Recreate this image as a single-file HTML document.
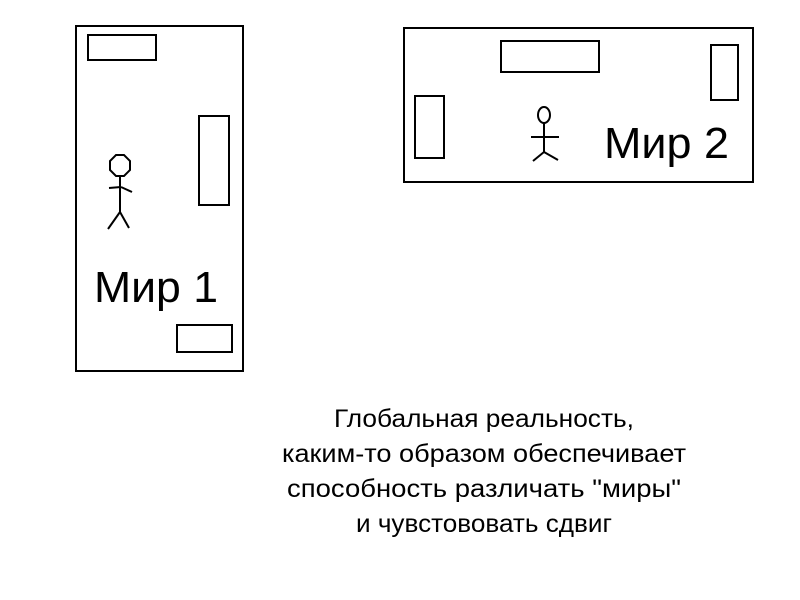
<!DOCTYPE html>
<html><head><meta charset="utf-8"><style>html,body{margin:0;padding:0;background:#fff}svg{display:block}</style></head>
<body>
<svg width="800" height="600" viewBox="0 0 800 600" xmlns="http://www.w3.org/2000/svg">
<g fill="none" stroke="#000" stroke-width="2">
<rect x="76" y="26" width="167" height="345"/>
<rect x="88" y="35" width="68" height="25"/>
<rect x="199" y="116" width="30" height="89"/>
<rect x="177" y="325" width="55" height="27"/>
<rect x="404" y="28" width="349" height="154"/>
<rect x="501" y="41" width="98" height="31"/>
<rect x="711" y="45" width="27" height="55"/>
<rect x="415" y="96" width="29" height="62"/>
<polygon points="116,155 124,155 130,161 130,170 124,176 116,176 110,170 110,161"/>
<line x1="120" y1="176" x2="120" y2="213"/>
<line x1="109" y1="188" x2="121" y2="187"/>
<line x1="121" y1="187" x2="132" y2="192"/>
<line x1="120" y1="212" x2="108" y2="229"/>
<line x1="120" y1="212" x2="129" y2="228"/>
<ellipse cx="544" cy="115" rx="6" ry="8"/>
<line x1="544" y1="123" x2="544" y2="152"/>
<line x1="531" y1="137" x2="559" y2="137"/>
<line x1="544" y1="152" x2="533" y2="161"/>
<line x1="544" y1="152" x2="558" y2="160"/>
</g>
<g font-family="Liberation Sans, sans-serif" fill="#000">
<text x="94" y="302" font-size="44" textLength="124" lengthAdjust="spacingAndGlyphs">Мир 1</text>
<text x="604" y="158" font-size="44" textLength="125" lengthAdjust="spacingAndGlyphs">Мир 2</text>
<g font-size="25" text-anchor="middle">
<text x="484" y="427" textLength="300" lengthAdjust="spacingAndGlyphs">Глобальная реальность,</text>
<text x="484" y="462" textLength="404" lengthAdjust="spacingAndGlyphs">каким-то образом обеспечивает</text>
<text x="484" y="497" textLength="394" lengthAdjust="spacingAndGlyphs">способность различать "миры"</text>
<text x="484" y="532" textLength="256" lengthAdjust="spacingAndGlyphs">и чувстововать сдвиг</text>
</g>
</g>
</svg>
</body></html>
